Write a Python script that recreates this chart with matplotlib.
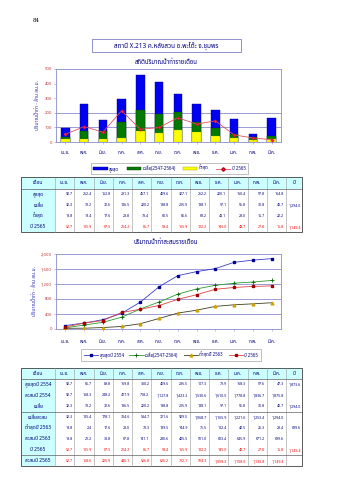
import matplotlib
matplotlib.use("Agg")
import matplotlib.pyplot as plt
from matplotlib import font_manager as fm
from matplotlib.ft2font import FT2Font
from matplotlib.patches import Rectangle, Patch
from matplotlib.lines import Line2D

# ---------------- data ----------------
months = ['เม.ย.', 'พ.ค.', 'มิ.ย.', 'ก.ค.', 'ส.ค.', 'ก.ย.', 'ต.ค.', 'พ.ย.', 'ธ.ค.', 'ม.ค.', 'ก.พ.', 'มี.ค.']
max_monthly = [92.7, 262.4, 152.8, 291.3, 457.1, 409.6, 327.1, 262.2, 220.1, 160.4, 57.8, 164.8]
avg_monthly = [32.3, 73.2, 72.6, 136.5, 220.2, 188.8, 205.9, 138.1, 97.1, 55.8, 31.8, 40.7]
min_monthly = [18.8, 18.4, 17.6, 29.8, 73.4, 60.5, 85.6, 68.2, 43.1, 28.0, 15.7, 22.2]
y2565_monthly = [52.7, 105.9, 67.3, 214.2, 86.7, 99.4, 165.9, 122.2, 145.0, 48.7, 27.8, 15.8]
avg_year = 1294.0
y2565_year = 1149.4

max2554_monthly = [92.7, 65.7, 89.8, 169.8, 300.2, 409.6, 295.5, 107.3, 79.9, 168.3, 57.6, 47.3]
max2554_cum = [92.7, 158.3, 248.2, 417.9, 718.2, 1127.8, 1423.3, 1530.6, 1610.5, 1778.8, 1836.7, 1875.8]
max2554_year = 1873.6
avg_cum = [32.3, 105.4, 178.1, 314.6, 534.7, 721.6, 929.5, 1068.7, 1165.9, 1221.6, 1253.4, 1294.0]
min2563_monthly = [18.8, 2.4, 17.6, 29.0, 73.3, 139.5, 144.9, 75.5, 102.4, 42.5, 25.3, 28.4]
min2563_cum = [18.8, 21.2, 38.8, 67.8, 141.1, 280.6, 425.5, 501.0, 603.4, 645.9, 671.2, 699.6]
min2563_year = 699.6
y2565_cum = [52.7, 158.6, 225.9, 440.1, 526.8, 626.2, 792.1, 914.3, 1059.3, 1108.0, 1135.8, 1149.4]

# ---------------- font ----------------
def find_thai():
    pref = ['Noto Sans Thai', 'Noto Serif Thai', 'Loma', 'Garuda', 'Norasi', 'Tlwg Typo',
            'Sarabun', 'TH Sarabun New', 'Tahoma', 'DejaVu Sans']
    found = {}
    for f in fm.fontManager.ttflist:
        try:
            cm = FT2Font(f.fname).get_charmap()
        except Exception:
            continue
        if 0x0E2A in cm and 0x0E34 in cm and 0x0E49 in cm:
            found.setdefault(f.name, f.fname)
    for p in pref:
        if p in found:
            return p
    return next(iter(found), None)

thai = find_thai()
fams = ([thai] if thai else []) + ['DejaVu Sans']
plt.rcParams['font.family'] = fams

W, H = 339, 480
fig = plt.figure(figsize=(W / 100, H / 100), dpi=100)
fig.patch.set_facecolor('white')

def rect(x0, y0, x1, y1):
    return [x0 / W, 1 - y1 / H, (x1 - x0) / W, (y1 - y0) / H]

ax0 = fig.add_axes([0, 0, 1, 1])
ax0.set_xlim(0, W)
ax0.set_ylim(H, 0)
ax0.axis('off')

navy = '#000080'
gridc = '#8C8CD0'
tickc = '#C03030'

# page number
ax0.text(33, 20, '84', fontsize=4, color='black', ha='left', va='center', family='DejaVu Serif')

# title box
ax0.add_patch(Rectangle((92, 39), 149, 13, fill=False, ec='#8080C0', lw=0.6))
ax0.text(166.5, 45.5, 'สถานี X.213 ค.หลังสวน อ.พะโต๊ะ จ.ชุมพร', fontsize=4.6, color=navy,
         fontweight='bold', ha='center', va='center')
ax0.text(166, 61.5, 'สถิติปริมาณน้ำท่ารายเดือน', fontsize=4.4, color=navy, fontweight='bold',
         ha='center', va='center')
ax0.text(166, 242, 'ปริมาณน้ำท่าสะสมรายเดือน', fontsize=4.4, color=navy, fontweight='bold',
         ha='center', va='center')

x = list(range(12))

def style_axes(ax):
    for s in ax.spines.values():
        s.set_color(gridc)
        s.set_linewidth(0.6)
    ax.tick_params(axis='y', colors=gridc, labelcolor=tickc, labelsize=3, length=1.5, width=0.4, pad=1.5)
    ax.tick_params(axis='x', colors=gridc, labelcolor=navy, labelsize=3.3, length=1.5, width=0.4)
    ax.set_xlim(-0.5, 11.5)
    ax.set_xticks(x)
    ax.set_xticklabels(months)

# ---------------- chart 1 ----------------
ax1 = fig.add_axes(rect(56, 69, 281, 142))
style_axes(ax1)
ax1.set_ylim(0, 500)
ax1.set_yticks([0, 100, 200, 300, 400, 500])
for g in [100, 200]:
    ax1.axhline(g, color=gridc, lw=0.6, zorder=0)
bw = 0.45
ax1.bar(x, max_monthly, width=bw, color='#0000F0', ec='#000080', lw=0.3, zorder=2)
ax1.bar(x, avg_monthly, width=bw, color='#007A00', ec='#004000', lw=0.3, zorder=3)
ax1.bar(x, min_monthly, width=bw, color='#FFFF00', ec='#A0A000', lw=0.2, zorder=4)
ax1.plot(x, y2565_monthly, color='#E05060', lw=0.6, marker='D', ms=1.8, mfc='#FF2050',
         mec='#C00020', mew=0.3, zorder=5)
ax1.tick_params(axis='x', pad=4)
ax1.set_ylabel('ปริมาณน้ำท่า - ล้าน ลบ.ม.', fontsize=3.6, color='#3030C0', labelpad=3)

h1 = [Patch(fc='#0000F0', ec='#000080', lw=0.3), Patch(fc='#007A00', ec='#004000', lw=0.3),
      Patch(fc='#FFFF00', ec='#A0A000', lw=0.3),
      Line2D([], [], color='#E05060', lw=0.6, marker='D', ms=1.8, mfc='#FF2050', mec='#C00020')]
lg1 = fig.legend(h1, ['สูงสุด', 'เฉลี่ย(2547-2564)', 'ต่ำสุด', 'ปี 2565'], ncol=4,
                 loc='center', bbox_to_anchor=(169.5 / W, 1 - 168.5 / H), fontsize=3.2,
                 frameon=True, fancybox=False, edgecolor='#909090', handlelength=3.2,
                 handleheight=0.8, columnspacing=1.7, handletextpad=0.3, borderpad=0.5)
lg1.get_frame().set_linewidth(0.5)
for t in lg1.get_texts():
    t.set_color(navy)

# ---------------- chart 2 ----------------
ax2 = fig.add_axes(rect(56, 254, 281, 329))
style_axes(ax2)
ax2.set_ylim(0, 2000)
ax2.set_yticks([0, 400, 800, 1200, 1600, 2000])
ax2.set_yticklabels(['0', '400', '800', '1,200', '1,600', '2,000'])
for g in [400, 800, 1200, 1600]:
    ax2.axhline(g, color=gridc, lw=0.6, zorder=0)
ax2.tick_params(axis='x', pad=6)
ax2.set_ylabel('ปริมาณน้ำท่า - ล้าน ลบ.ม.', fontsize=3.6, color='#3030C0', labelpad=3)

st_max = dict(color='#3C3CD0', lw=0.6, marker='s', ms=2.0, mfc='#000090', mec='#000090')
st_avg = dict(color='#2E9A2E', lw=0.6, marker='+', ms=2.6, mec='#006000', mew=0.6)
st_min = dict(color='#404020', lw=0.6, marker='^', ms=2.0, mfc='#F0C000', mec='#D0A000')
st_65 = dict(color='#E04040', lw=0.6, marker='s', ms=2.0, mfc='#D00000', mec='#A00000')
ax2.plot(x, max2554_cum, **st_max, zorder=3)
ax2.plot(x, avg_cum, **st_avg, zorder=3)
ax2.plot(x, min2563_cum, **st_min, zorder=3)
ax2.plot(x, y2565_cum, **st_65, zorder=4)

h2 = [Line2D([], [], **st_max), Line2D([], [], **st_avg), Line2D([], [], **st_min),
      Line2D([], [], **st_65)]
lg2 = fig.legend(h2, ['สูงสุดปี 2554', 'เฉลี่ย(2547-2564)', 'ต่ำสุดปี 2563', 'ปี 2565'], ncol=4,
                 loc='center', bbox_to_anchor=(171 / W, 1 - 355 / H), fontsize=3.2,
                 frameon=True, fancybox=False, edgecolor='#909090', handlelength=3.2,
                 columnspacing=1.25, handletextpad=0.3, borderpad=0.6)
lg2.get_frame().set_linewidth(0.5)
for t in lg2.get_texts():
    t.set_color(navy)

# ---------------- tables ----------------
cyan = '#CCFFFF'
TX0, TX1 = 21, 302
C0 = 55
CW = 19.25
CY = C0 + 12 * CW  # start of year column

def fmt(v):
    return '' if v is None else f'{v:,.1f}'

def draw_table(top, head_h, row_h, labels, rows, years, colors, seps):
    nrows = len(rows)
    bottom = top + head_h + row_h * nrows
    ax0.add_patch(Rectangle((TX0, top), TX1 - TX0, head_h, fc=cyan, ec='none'))
    ax0.add_patch(Rectangle((TX0, top + head_h), C0 - TX0, bottom - top - head_h, fc=cyan, ec='none'))
    for i in range(13):
        xx = C0 + i * CW
        ax0.plot([xx, xx], [top, bottom], color='#9A9A9A', lw=0.4)
    ax0.plot([TX0, TX1], [top + head_h, top + head_h], color='#606060', lw=0.5)
    for s in seps:
        yy = top + head_h + s * row_h
        ax0.plot([TX0, TX1], [yy, yy], color='#606060', lw=0.5)
    ax0.add_patch(Rectangle((TX0, top), TX1 - TX0, bottom - top, fill=False, ec='#404040', lw=0.6))
    ax0.text((TX0 + C0) / 2, top + head_h / 2, 'เดือน', fontsize=3.6, color=navy, fontweight='bold',
             ha='center', va='center')
    for i, m in enumerate(months):
        ax0.text(C0 + (i + 0.5) * CW, top + head_h / 2, m, fontsize=3.3, color=navy,
                 ha='center', va='center')
    ax0.text((CY + TX1) / 2, top + head_h / 2, 'ปี', fontsize=3.6, color=navy, fontweight='bold',
             ha='center', va='center')
    for r, (lab, vals, yv, col) in enumerate(zip(labels, rows, years, colors)):
        yc = top + head_h + (r + 0.5) * row_h
        ax0.text((TX0 + C0) / 2, yc, lab, fontsize=3.5, color=navy, fontweight='bold',
                 ha='center', va='center')
        for i, v in enumerate(vals):
            ax0.text(C0 + (i + 1) * CW - 1.8, yc, fmt(v), fontsize=2.6, color=col,
                     ha='right', va='center')
        if yv is not None:
            ax0.text(TX1 - 0.8, yc, fmt(yv), fontsize=2.6, color=col, ha='right', va='center')

draw_table(177, 12, 10.8,
           ['สูงสุด', 'เฉลี่ย', 'ต่ำสุด', 'ปี 2565'],
           [max_monthly, avg_monthly, min_monthly, y2565_monthly],
           [None, avg_year, None, y2565_year],
           [navy, navy, navy, '#FF0000'], [])

draw_table(368, 11, 10.9,
           ['สูงสุดปี 2554', 'สะสมปี 2554', 'เฉลี่ย', 'เฉลี่ยสะสม', 'ต่ำสุดปี 2563', 'สะสมปี 2563',
            'ปี 2565', 'สะสมปี 2565'],
           [max2554_monthly, max2554_cum, avg_monthly, avg_cum, min2563_monthly, min2563_cum,
            y2565_monthly, y2565_cum],
           [max2554_year, None, avg_year, None, min2563_year, None, y2565_year, None],
           [navy, navy, navy, navy, navy, navy, '#FF0000', '#FF0000'], [3, 7])

fig.savefig('out.png', dpi=100, facecolor='white')
